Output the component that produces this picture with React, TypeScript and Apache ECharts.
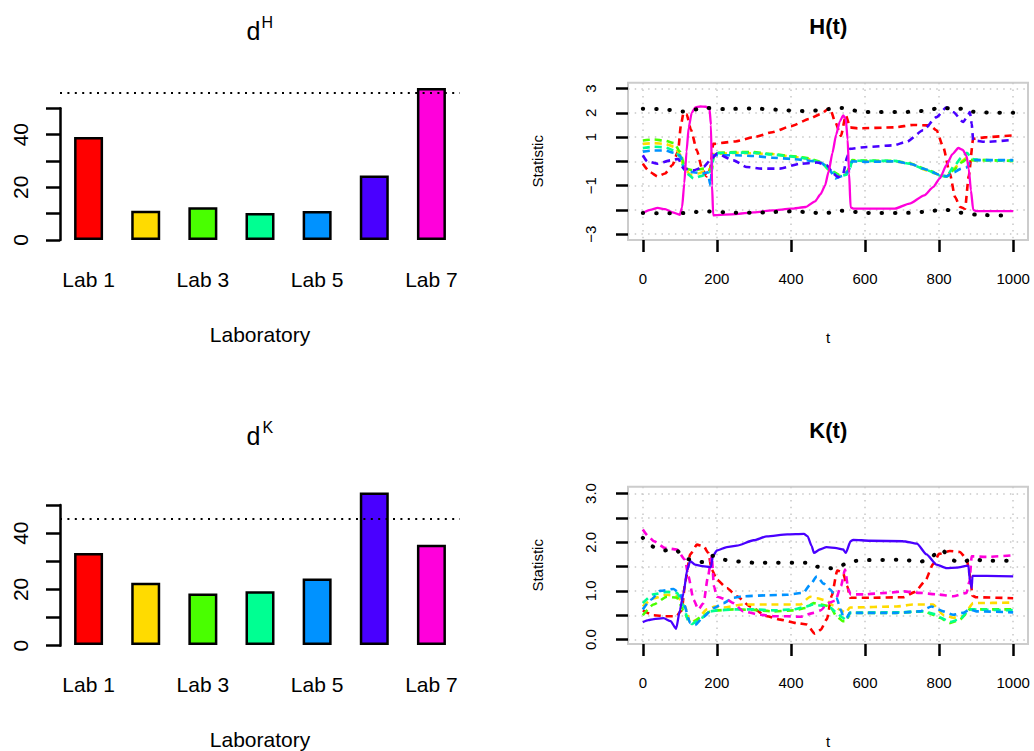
import React, { useEffect, useRef } from "react";
import * as echarts from "echarts";

const FONT = '"Liberation Sans", Arial, Helvetica, sans-serif';

// ---------- data ----------
const labs = ["Lab 1", "Lab 2", "Lab 3", "Lab 4", "Lab 5", "Lab 6", "Lab 7"];
const labColors = ["#FF0000", "#FFDB00", "#49FF00", "#00FF92", "#0092FF", "#4900FF", "#FF00DB"];

const dH = [39.1, 11.1, 12.4, 10.3, 11.0, 24.5, 57.7];
const dHThreshold = 55.9;
const dK = [32.8, 22.2, 18.4, 19.2, 23.7, 54.4, 35.8];
const dKThreshold = 44.9;

const barTickLabels = [0, 20, 40];
const tTicks = [0, 200, 400, 600, 800, 1000];
const hTicks = [-3, -2, -1, 0, 1, 2, 3];
const hTickLabels = [-3, -1, 1, 2, 3];
const kTicks = [0, 0.5, 1, 1.5, 2, 2.5, 3];
const kTickLabels = [0, 1, 2, 3];

// H(t) statistic per laboratory: [t, value]
const H_LAB1: number[][] = [[0,-0.1],[20,-0.45],[40,-0.62],[60,-0.5],[80,-0.15],[95,0.4],[103,1.5],[110,2.0],[118,1.95],[130,1.3],[146,0.45],[160,-0.3],[172,-0.62],[182,-0.3],[190,0.72],[250,0.82],[300,1.0],[350,1.2],[400,1.45],[450,1.75],[480,1.95],[505,2.2],[520,1.6],[535,1.05],[548,1.9],[560,1.4],[580,1.36],[680,1.4],[730,1.5],[775,1.48],[793,1.28],[811,0.6],[829,-0.5],[843,-1.47],[857,-1.88],[870,-1.95],[880,-0.6],[892,0.93],[930,1.0],[1000,1.07]];
const H_LAB2: number[][] = [[0,0.72],[30,0.75],[60,0.72],[85,0.6],[100,0.3],[110,-0.2],[128,-0.55],[150,-0.5],[175,-0.35],[186,-0.3],[192,0.3],[250,0.35],[300,0.33],[350,0.3],[400,0.2],[440,0.12],[480,-0.05],[510,-0.45],[530,-0.6],[550,-0.5],[560,-0.2],[565,0.02],[600,0.0],[680,0.0],[720,-0.1],[770,-0.38],[800,-0.55],[820,-0.62],[840,-0.3],[860,0.0],[875,0.15],[890,0.05],[910,0.05],[1000,0.02]];
const H_LAB3: number[][] = [[0,0.86],[30,0.9],[60,0.85],[85,0.75],[100,0.4],[115,-0.3],[137,-0.37],[165,-0.3],[186,-0.35],[192,0.35],[250,0.38],[300,0.38],[350,0.3],[400,0.22],[440,0.15],[480,-0.02],[510,-0.4],[530,-0.55],[550,-0.45],[560,-0.2],[565,0.05],[600,0.03],[680,0.02],[720,-0.08],[770,-0.35],[800,-0.55],[820,-0.63],[840,-0.35],[860,-0.05],[875,0.1],[890,0.05],[910,0.05],[1000,0.02]];
const H_LAB4: number[][] = [[0,0.55],[30,0.6],[60,0.58],[85,0.45],[100,0.2],[115,-0.45],[137,-0.7],[160,-0.6],[186,-0.4],[192,0.33],[250,0.36],[300,0.35],[350,0.28],[400,0.2],[440,0.12],[480,-0.05],[510,-0.42],[530,-0.62],[550,-0.55],[560,-0.25],[565,0.03],[600,0.02],[680,0.02],[720,-0.1],[770,-0.38],[800,-0.58],[820,-0.62],[840,-0.2],[860,0.15],[875,0.35],[890,0.1],[910,0.05],[1000,0.03]];
const H_LAB5: number[][] = [[0,0.4],[30,0.45],[60,0.45],[85,0.35],[100,0.25],[115,-0.4],[137,-0.45],[160,-0.5],[175,-0.45],[183,-1.0],[188,0.25],[250,0.25],[300,0.22],[350,0.15],[400,0.1],[440,0.05],[480,-0.05],[500,-0.25],[520,-0.7],[540,-0.6],[555,-0.4],[565,0.0],[600,-0.02],[680,0.0],[720,-0.1],[770,-0.35],[800,-0.55],[820,-0.62],[840,-0.45],[860,-0.3],[875,-0.25],[885,0.0],[900,0.05],[1000,0.05]];
const H_LAB6: number[][] = [[0,0.25],[12,0.0],[40,-0.1],[75,0.04],[96,0.1],[110,-0.3],[137,-0.37],[164,-0.23],[182,0.04],[200,0.32],[245,0.04],[280,-0.23],[320,-0.3],[370,-0.3],[424,-0.1],[470,-0.05],[497,-0.16],[514,-0.51],[528,-0.65],[541,-0.5],[552,0.2],[559,0.52],[604,0.59],[676,0.66],[712,0.8],[757,1.28],[793,1.82],[820,2.23],[838,2.03],[865,1.62],[878,1.9],[883,2.03],[888,1.55],[892,0.86],[928,0.8],[1000,0.89]];
const H_LAB7: number[][] = [[0,-2.13],[20,-2.0],[40,-1.92],[60,-1.97],[80,-2.1],[100,-2.2],[106,-1.9],[112,-0.9],[118,0.4],[124,1.4],[132,2.0],[142,2.22],[155,2.26],[170,2.25],[180,2.17],[184,1.5],[187,-1.0],[190,-2.22],[250,-2.17],[300,-2.1],[350,-2.02],[400,-1.95],[440,-1.88],[465,-1.65],[480,-1.35],[492,-1.0],[502,-0.4],[512,0.35],[522,1.1],[532,1.65],[541,1.89],[548,1.75],[553,0.9],[557,-0.5],[561,-1.9],[570,-1.95],[680,-1.95],[720,-1.74],[760,-1.4],[784,-1.06],[802,-0.7],[820,-0.15],[836,0.3],[852,0.55],[864,0.47],[874,0.22],[880,-0.3],[886,-1.2],[892,-2.0],[900,-2.05],[1000,-2.05]];
const H_UPPER: number[][] = [[0,2.17],[60,2.14],[108,2.05],[170,2.2],[220,2.15],[290,2.18],[360,2.13],[434,2.07],[470,2.1],[537,2.2],[560,2.12],[600,2.04],[700,2.03],[770,2.1],[807,2.22],[840,2.15],[875,2.18],[893,2.04],[950,2.01],[1000,2.0]];
const H_LOWER: number[][] = [[0,-2.13],[60,-2.14],[110,-2.13],[170,-2.06],[250,-2.12],[330,-2.1],[400,-2.06],[450,-2.1],[490,-2.15],[530,-2.03],[600,-2.12],[700,-2.13],[780,-2.05],[810,-1.97],[850,-2.1],[880,-2.15],[900,-2.2],[1000,-2.24]];

// K(t) statistic per laboratory: [t, value]
const K_LAB1: number[][] = [[0,0.6],[30,0.5],[60,0.48],[90,0.48],[105,0.6],[115,1.2],[128,1.75],[146,1.95],[164,1.92],[177,1.78],[186,1.44],[200,1.23],[227,1.06],[254,0.89],[290,0.68],[335,0.48],[371,0.41],[416,0.34],[443,0.31],[465,0.12],[480,0.2],[497,0.42],[510,0.9],[525,1.42],[540,1.38],[552,1.1],[560,0.86],[613,0.86],[703,0.87],[735,0.98],[762,1.2],[784,1.55],[800,1.76],[829,1.82],[856,1.8],[874,1.66],[884,1.3],[890,0.9],[900,0.87],[1000,0.85]];
const K_LAB2: number[][] = [[0,0.68],[29,0.85],[65,0.92],[92,0.9],[114,0.68],[128,0.34],[146,0.41],[173,0.62],[195,0.68],[218,0.66],[271,0.72],[335,0.72],[425,0.72],[452,0.88],[470,0.85],[497,0.8],[514,0.7],[535,0.6],[548,0.55],[559,0.66],[685,0.68],[730,0.72],[784,0.72],[811,0.51],[838,0.45],[865,0.48],[892,0.75],[1000,0.76]];
const K_LAB3: number[][] = [[0,0.5],[29,0.72],[65,0.88],[92,0.86],[110,0.6],[122,0.42],[135,0.36],[160,0.48],[182,0.58],[200,0.6],[245,0.62],[299,0.61],[353,0.58],[407,0.6],[440,0.65],[461,0.75],[480,0.72],[506,0.68],[523,0.48],[540,0.38],[550,0.38],[559,0.55],[685,0.55],[757,0.58],[790,0.5],[802,0.45],[829,0.34],[856,0.41],[883,0.62],[1000,0.62]];
const K_LAB4: number[][] = [[0,0.75],[29,0.93],[65,0.98],[92,0.96],[110,0.7],[122,0.4],[132,0.32],[160,0.45],[182,0.58],[200,0.6],[245,0.62],[300,0.62],[353,0.6],[407,0.62],[440,0.68],[461,0.72],[480,0.7],[506,0.66],[523,0.55],[540,0.45],[550,0.4],[559,0.55],[685,0.56],[757,0.58],[790,0.52],[802,0.46],[829,0.36],[856,0.42],[883,0.62],[1000,0.6]];
const K_LAB5: number[][] = [[0,0.62],[22,0.82],[47,1.0],[83,1.04],[100,0.95],[110,0.75],[128,0.34],[141,0.3],[164,0.47],[191,0.65],[218,0.75],[245,0.86],[271,0.89],[335,0.91],[389,0.92],[433,0.96],[452,1.13],[470,1.3],[488,1.15],[506,1.03],[523,0.86],[535,0.6],[541,0.48],[550,0.45],[559,0.55],[685,0.55],[748,0.58],[780,0.68],[811,0.58],[838,0.51],[865,0.55],[883,0.62],[900,0.58],[1000,0.56]];
const K_LAB6: number[][] = [[0,0.36],[15,0.4],[30,0.42],[56,0.44],[75,0.38],[90,0.22],[100,0.6],[110,0.96],[120,1.44],[128,1.61],[141,1.54],[160,1.51],[184,1.49],[189,1.71],[200,1.83],[227,1.9],[254,1.93],[299,2.04],[335,2.12],[390,2.16],[435,2.17],[445,2.12],[456,1.92],[462,1.78],[478,1.85],[496,1.9],[523,1.88],[541,1.85],[548,1.78],[561,2.02],[568,2.05],[613,2.03],[703,2.02],[740,1.97],[766,1.75],[793,1.54],[820,1.47],[847,1.48],[879,1.52],[883,1.23],[888,1.06],[890,1.31],[928,1.31],[1000,1.3]];
const K_LAB7: number[][] = [[0,2.26],[15,2.12],[30,2.02],[60,1.88],[92,1.85],[114,1.64],[123,1.3],[137,0.82],[150,0.62],[164,0.75],[176,1.3],[186,1.72],[192,1.1],[200,0.88],[227,0.82],[245,0.75],[271,0.58],[317,0.51],[353,0.48],[389,0.48],[425,0.47],[461,0.55],[480,0.6],[500,0.75],[520,0.8],[535,1.1],[546,1.44],[555,1.03],[561,0.93],[600,0.93],[658,0.96],[703,0.99],[748,0.96],[793,0.93],[838,0.89],[874,0.96],[882,1.2],[888,1.71],[928,1.7],[1000,1.73]];
const K_UPPER: number[][] = [[0,2.09],[25,1.92],[56,1.83],[87,1.85],[112,1.69],[140,1.61],[168,1.59],[189,1.72],[220,1.64],[300,1.58],[440,1.58],[470,1.5],[500,1.46],[530,1.5],[560,1.6],[600,1.63],[700,1.64],[750,1.6],[780,1.7],[807,1.85],[830,1.66],[860,1.58],[890,1.66],[920,1.62],[1000,1.62]];

const H_SERIES = [H_LAB1, H_LAB2, H_LAB3, H_LAB4, H_LAB5, H_LAB6, H_LAB7];
const K_SERIES = [K_LAB1, K_LAB2, K_LAB3, K_LAB4, K_LAB5, K_LAB6, K_LAB7];

// ---------- helpers ----------
const txt = (size: number, bold = false) => ({
  fontFamily: FONT,
  fontSize: size,
  fontWeight: bold ? "bold" : "normal",
  color: "#000",
});

function barAxes(gridBars: number, gridAxis: number, max: number) {
  const xAxes = [
    {
      type: "category",
      gridIndex: gridBars,
      data: labs,
      axisLine: { show: false, onZero: false },
      axisTick: { show: false },
      axisLabel: { interval: 1, margin: 29, ...txt(21) },
      name: "Laboratory",
      nameLocation: "middle",
      nameGap: 84,
      nameTextStyle: txt(21),
    },
    { type: "value", gridIndex: gridAxis, show: false, min: 0, max: 1 },
  ];
  const yAxes = [
    { type: "value", gridIndex: gridBars, min: 0, max, show: false },
    {
      type: "value",
      gridIndex: gridAxis,
      min: 0,
      max: 50,
      interval: 10,
      axisLine: { show: true, onZero: false, lineStyle: { color: "#000", width: 2.5 } },
      axisTick: { show: true, length: 14, lineStyle: { color: "#000", width: 2.5 } },
      axisLabel: {
        rotate: 90,
        margin: 29,
        ...txt(21),
        formatter: (v: number) => (barTickLabels.includes(v) ? String(v) : ""),
      },
      splitLine: { show: false },
    },
  ];
  return { xAxes, yAxes };
}

function lineAxes(grid: number, min: number, max: number, ticks: number[], labels: number[], fmt: (v: number) => string) {
  const gridLine = { show: true, lineStyle: { color: "#c8c8c8", width: 1.5, type: [1.5, 5.2] } };
  const x = {
    type: "value",
    gridIndex: grid,
    min: -40,
    max: 1040,
    axisLine: { show: false, onZero: false },
    axisTick: { show: true, customValues: tTicks, length: 12, lineStyle: { color: "#000", width: 2.5 } },
    axisLabel: { customValues: tTicks, margin: 31, ...txt(15), formatter: (v: number) => String(v) },
    splitLine: gridLine,
    name: "t",
    nameLocation: "middle",
    nameGap: 90,
    nameTextStyle: txt(15),
  };
  const y = {
    type: "value",
    gridIndex: grid,
    min,
    max,
    axisLine: { show: false, onZero: false },
    axisTick: { show: true, customValues: ticks, length: 12, lineStyle: { color: "#000", width: 2.5 } },
    axisLabel: { customValues: labels, rotate: 90, margin: 30, ...txt(15), formatter: fmt },
    splitLine: gridLine,
    name: "Statistic",
    nameLocation: "middle",
    nameRotate: 90,
    nameGap: 83,
    nameTextStyle: txt(15),
  };
  return { x, y };
}

function barSeries(axisIdx: number, values: number[], threshold: number) {
  return {
    type: "bar",
    xAxisIndex: axisIdx,
    yAxisIndex: axisIdx,
    barWidth: 29,
    silent: true,
    data: values.map((v, i) => ({ value: v, itemStyle: { color: labColors[i] } })),
    itemStyle: { borderColor: "#000", borderWidth: 2.5 },
    markLine: {
      silent: true,
      symbol: "none",
      label: { show: false },
      lineStyle: { color: "#000", width: 2, type: [2, 5.4] },
      data: [{ yAxis: threshold }],
    },
  };
}

function labLines(axisIdx: number, all: number[][][], d: number[], threshold: number) {
  return all.map((data, i) => {
    const solid = d[i] > threshold;
    return {
      type: "line",
      xAxisIndex: axisIdx,
      yAxisIndex: axisIdx,
      data,
      showSymbol: false,
      symbol: "none",
      silent: true,
      smooth: 0.2,
      smoothMonotone: "x",
      lineStyle: {
        color: labColors[i],
        width: solid ? 2.3 : 2.6,
        type: solid ? "solid" : [7, 5],
      },
      z: solid ? 3 : 2,
    };
  });
}

function dottedLine(axisIdx: number, data: number[][]) {
  return {
    type: "line",
    xAxisIndex: axisIdx,
    yAxisIndex: axisIdx,
    data,
    showSymbol: false,
    symbol: "none",
    silent: true,
    smooth: 0.2,
    lineStyle: { color: "#000", width: 4, type: [0.5, 12.8], cap: "round" },
    z: 4,
  };
}

export default function App() {
  const ref = useRef<HTMLDivElement>(null);

  useEffect(() => {
    if (!ref.current) return;
    const chart = echarts.init(ref.current, undefined, { renderer: "svg" });

    const tl = barAxes(0, 1, 60.0);
    const bl = barAxes(2, 3, 56.6);
    const tr = lineAxes(4, -3.24, 3.24, hTicks, hTickLabels, (v: number) => (v < 0 ? "\u2212" + Math.abs(v) : String(v)));
    const br = lineAxes(5, -0.09, 3.14, kTicks, kTickLabels, (v: number) => v.toFixed(1));

    const option: any = {
      animation: false,
      backgroundColor: "#ffffff",
      textStyle: { fontFamily: FONT },
      grid: [
        { left: 60, top: 82, width: 400, height: 158 },
        { left: 60, top: 108.3, width: 400, height: 131.7 },
        { left: 60, top: 486.4, width: 400, height: 159.3 },
        { left: 60, top: 505, width: 400, height: 140.7 },
        { left: 628, top: 82.7, width: 400, height: 157.3, show: true, borderColor: "#cccccc", borderWidth: 2, backgroundColor: "transparent" },
        { left: 628, top: 486.7, width: 400, height: 157.3, show: true, borderColor: "#cccccc", borderWidth: 2, backgroundColor: "transparent" },
      ],
      xAxis: [...tl.xAxes, ...bl.xAxes, tr.x, br.x],
      yAxis: [...tl.yAxes, ...bl.yAxes, tr.y, br.y],
      series: [
        barSeries(0, dH, dHThreshold),
        barSeries(2, dK, dKThreshold),
        ...labLines(4, H_SERIES, dH, dHThreshold),
        dottedLine(4, H_UPPER),
        dottedLine(4, H_LOWER),
        ...labLines(5, K_SERIES, dK, dKThreshold),
        dottedLine(5, K_UPPER),
      ],
      graphic: [
        { type: "text", x: 246.5, y: 31.3, style: { text: "d", font: `25px ${FONT}`, fill: "#000", align: "left", verticalAlign: "middle" } },
        { type: "text", x: 261.5, y: 22.1, style: { text: "H", font: `16px ${FONT}`, fill: "#000", align: "left", verticalAlign: "middle" } },
        { type: "text", x: 246.5, y: 436.3, style: { text: "d", font: `25px ${FONT}`, fill: "#000", align: "left", verticalAlign: "middle" } },
        { type: "text", x: 262.5, y: 427, style: { text: "K", font: `16px ${FONT}`, fill: "#000", align: "left", verticalAlign: "middle" } },
        { type: "text", x: 828.3, y: 26.6, style: { text: "H(t)", font: `bold 22px ${FONT}`, fill: "#000", align: "center", verticalAlign: "middle" } },
        { type: "text", x: 828.3, y: 430.6, style: { text: "K(t)", font: `bold 22px ${FONT}`, fill: "#000", align: "center", verticalAlign: "middle" } },
      ],
    };

    chart.setOption(option);
    return () => chart.dispose();
  }, []);

  return (
    <div
      ref={ref}
      style={{ position: "fixed", left: 0, top: 0, width: 1034, height: 751, background: "#fff" }}
    />
  );
}
